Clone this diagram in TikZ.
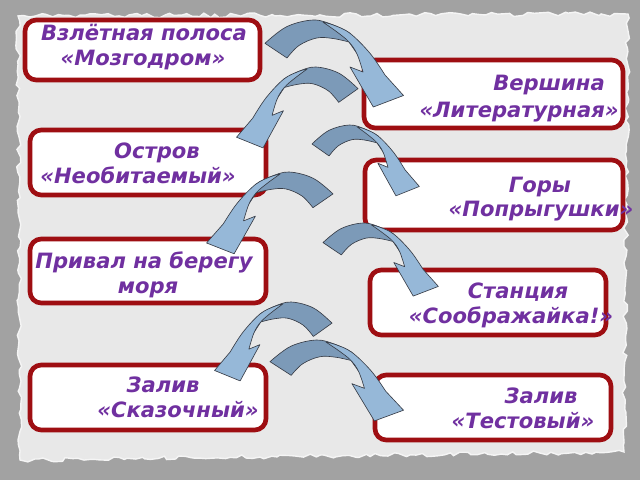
\documentclass[tikz,border=0pt]{standalone}
\usepackage{fontspec}
\newfontfamily\lblfont{DejaVu Sans}
\usetikzlibrary{fit,decorations.pathmorphing}
\definecolor{bgray}{RGB}{162,162,162}
\definecolor{paper}{RGB}{232,232,232}
\definecolor{paperedge}{RGB}{245,245,245}
\definecolor{boxred}{RGB}{158,14,18}
\definecolor{txtpurple}{RGB}{112,48,160}
\definecolor{arrdark}{RGB}{124,154,184}
\definecolor{arrlight}{RGB}{150,184,216}
\definecolor{arredge}{RGB}{55,60,70}
\tikzset{
  box/.style={draw=boxred, line width=3.3pt, fill=white, rounded corners=8pt, inner sep=0pt},
  lbl/.style={text=txtpurple, font=\lblfont\bfseries\itshape\fontsize{15}{19}\selectfont, anchor=base, inner sep=0pt},
  arrowpart/.style={draw=arredge, line width=0.45pt, line join=round},
  carrow/.pic={
    \path[arrowpart, fill=arrdark]
      plot[smooth, tension=0.6] coordinates {(0,23.3) (21.7,6.7) (48.3,0) (68.3,5) (85,13.3)}
      -- (93,35)
      -- plot[smooth, tension=0.6] coordinates {(84,22) (68,18.5) (51.7,18) (34,25.5) (22,38)}
      -- cycle;
    \path[arrowpart, fill=arrlight]
      plot[smooth, tension=0.6] coordinates {(58,2.2) (68.3,5) (85,13.3) (105,33.3) (120,55)}
      -- (138.5,75.5) -- (108.3,87) -- (85,47) -- (98,52)
      -- plot[smooth, tension=0.6] coordinates {(98,52) (92,34) (84,22) (72,12) (58,2.2)}
      -- cycle;
  }
}
\begin{document}
\begin{tikzpicture}[x=0.025cm, y=-0.025cm]
  \pgfmathsetseed{7}
  \useasboundingbox (0,0) rectangle (640,480);
  \fill[bgray] (0,0) rectangle (640,480);
  \fill[paper, draw=paperedge, line width=1pt, decorate, decoration={random steps, segment length=4pt, amplitude=1.6pt}]
    (18,16) -- (628,14) -- (624,452) -- (20,460) -- cycle;

  % boxes
  \node[box, fit={(25,20) (260,80)}] (b1) {};
  \node[box, fit={(364,60) (623,128)}] (b2) {};
  \node[box, fit={(30,130) (266,195)}] (b3) {};
  \node[box, fit={(365,160) (623,230)}] (b4) {};
  \node[box, fit={(30,239) (266,303)}] (b5) {};
  \node[box, fit={(370,270) (606,335)}] (b6) {};
  \node[box, fit={(30,365) (266,430)}] (b7) {};
  \node[box, fit={(375,375) (611,440)}] (b8) {};

  % labels
  \node[lbl] (t1a) at (144,40) {Взлётная полоса};
  \node[lbl] (t1b) at (143,65) {«Мозгодром»};
  \node[lbl] (t2a) at (549,91) {Вершина};
  \node[lbl] (t2b) at (519,117) {«Литературная»};
  \node[lbl] (t3a) at (157,158) {Остров};
  \node[lbl] (t3b) at (138,183) {«Необитаемый»};
  \node[lbl] (t4a) at (540,192) {Горы};
  \node[lbl] (t4b) at (541,216) {«Попрыгушки»};
  \node[lbl] (t5a) at (144,268) {Привал на берегу};
  \node[lbl] (t5b) at (148,293) {моря};
  \node[lbl] (t6a) at (518,298) {Станция};
  \node[lbl] (t6b) at (511,323) {«Соображайка!»};
  \node[lbl] (t7a) at (163,392) {Залив};
  \node[lbl] (t7b) at (178,417) {«Сказочный»};
  \node[lbl] (t8a) at (541,403) {Залив};
  \node[lbl] (t8b) at (523,428) {«Тестовый»};

  % curved arrows (b1->b2, b2->b3, ..., b7->b8)
  \pic[xscale=1, yscale=1] at (265,20) {carrow};
  \pic[xscale=-0.877, yscale=0.93] at (358,67) {carrow};
  \pic[xscale=0.775, yscale=0.814] at (312,125) {carrow};
  \pic[xscale=-0.913, yscale=0.94] at (333,172) {carrow};
  \pic[xscale=0.833, yscale=0.84] at (323,223) {carrow};
  \pic[xscale=-0.848, yscale=0.907] at (332,302) {carrow};
  \pic[xscale=0.964, yscale=0.93] at (270,340) {carrow};
\end{tikzpicture}
\end{document}
